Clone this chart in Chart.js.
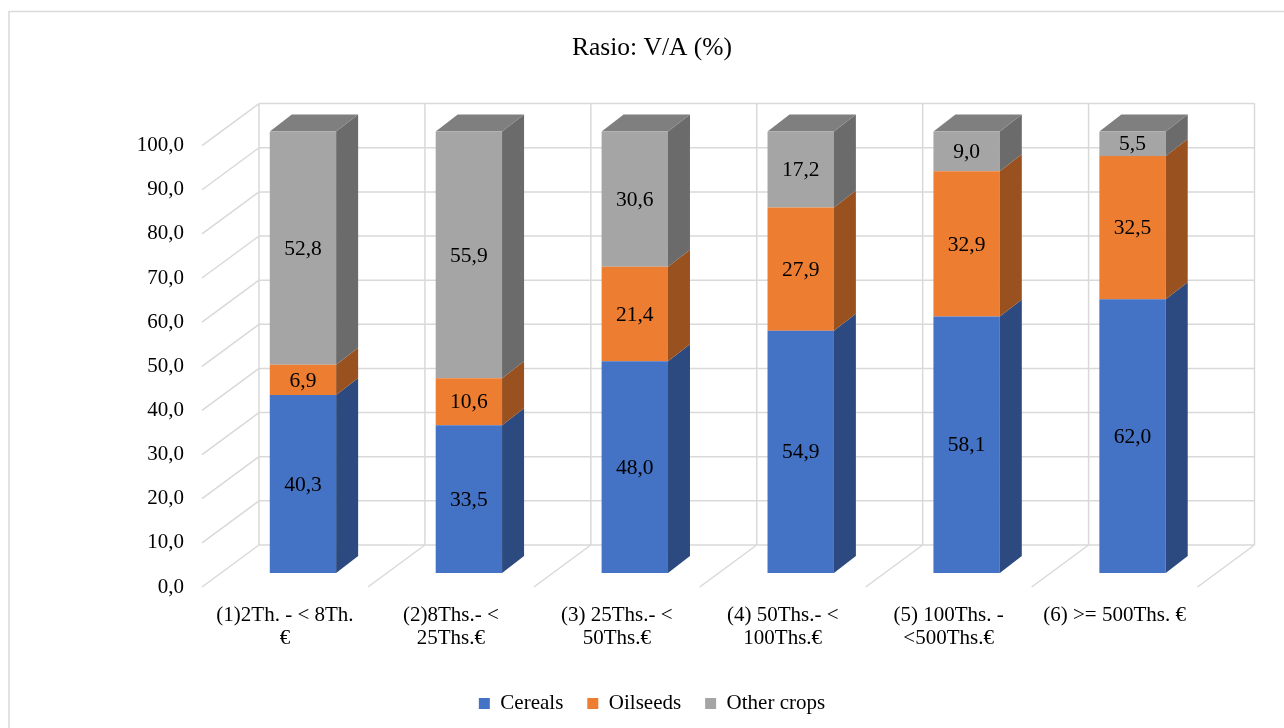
<!DOCTYPE html>
<html><head><meta charset="utf-8">
<script src="https://cdn.jsdelivr.net/npm/chart.js@4.4.1/dist/chart.umd.min.js"></script>
<style>html,body{margin:0;padding:0;background:#fff;}canvas{display:block}</style>
</head><body>
<canvas id="c" width="1284" height="728"></canvas>
<script>
const categories = [["(1)2Th. - < 8Th.","€"],["(2)8Ths.- <","25Ths.€"],["(3) 25Ths.- <","50Ths.€"],["(4) 50Ths.- <","100Ths.€"],["(5) 100Ths. -","<500Ths.€"],["(6) >= 500Ths. €"]];
const cereals = [40.3, 33.5, 48.0, 54.9, 58.1, 62.0];
const oilseeds = [6.9, 10.6, 21.4, 27.9, 32.9, 32.5];
const otherCrops = [52.8, 55.9, 30.6, 17.2, 9.0, 5.5];
const seriesNames = ["Cereals", "Oilseeds", "Other crops"];
const yMin = 0, yMax = 100, yStep = 10;

const FONT = "'Liberation Serif', 'Times New Roman', serif";
const frontColors = ['#4472C4', '#ED7D31', '#A5A5A5'];
const sideColors = ['#2C4A7F', '#9A5120', '#6B6B6B'];
const topColors = ['#3A62A8', '#C96A2A', '#7F7F7F'];
const BAR_D = {dx: 22, dy: -17};
const BACK = {dx: 39, dy: -28};
const FRONT = {dx: -18, dy: 14};
const GRID = '#D9D9D9';

const fmt = v => v.toFixed(1).replace('.', ',');

const threeD = {
  id: 'threeD',
  beforeDraw(chart) {
    const ctx = chart.ctx;
    ctx.save();
    ctx.fillStyle = '#fff';
    ctx.fillRect(0, 0, chart.width, chart.height);
    ctx.strokeStyle = GRID;
    ctx.lineWidth = 1.5;
    ctx.strokeRect(9, 11.5, 1400, 1000);
    ctx.restore();
  },
  beforeDatasetsDraw(chart) {
    const {ctx, chartArea: a, scales: {x, y}} = chart;
    const n = chart.data.labels.length;
    const cw = (a.right - a.left) / n;
    ctx.save();
    ctx.strokeStyle = GRID;
    ctx.lineWidth = 1.5;
    ctx.beginPath();
    for (let v = yMin; v <= yMax + 1e-9; v += yStep) {
      const py = y.getPixelForValue(v);
      ctx.moveTo(a.left + BACK.dx, py + BACK.dy);
      ctx.lineTo(a.right + BACK.dx, py + BACK.dy);
      ctx.moveTo(a.left + BACK.dx, py + BACK.dy);
      ctx.lineTo(a.left + FRONT.dx, py + FRONT.dy);
    }
    const y0 = y.getPixelForValue(yMin), y1 = y.getPixelForValue(yMax);
    for (let i = 0; i <= n; i++) {
      const bx = (i < n ? x.getPixelForValue(i) - cw / 2 : x.getPixelForValue(n - 1) + cw / 2);
      ctx.moveTo(bx + BACK.dx, y0 + BACK.dy);
      ctx.lineTo(bx + BACK.dx, y1 + BACK.dy);
      ctx.moveTo(bx + BACK.dx, y0 + BACK.dy);
      ctx.lineTo(bx + FRONT.dx, y0 + FRONT.dy);
    }
    ctx.stroke();
    ctx.restore();
  },
  afterDatasetsDraw(chart) {
    const ctx = chart.ctx;
    const nd = chart.data.datasets.length;
    ctx.save();
    for (let d = 0; d < nd; d++) {
      const meta = chart.getDatasetMeta(d);
      meta.data.forEach((bar) => {
        const {x, y, base, width} = bar.getProps(['x', 'y', 'base', 'width'], true);
        const r = x + width / 2, l = x - width / 2;
        const top = Math.min(y, base), bot = Math.max(y, base);
        ctx.fillStyle = sideColors[d];
        ctx.beginPath();
        ctx.moveTo(r, top);
        ctx.lineTo(r + BAR_D.dx, top + BAR_D.dy);
        ctx.lineTo(r + BAR_D.dx, bot + BAR_D.dy);
        ctx.lineTo(r, bot);
        ctx.closePath();
        ctx.fill();
        if (d === nd - 1) {
          ctx.fillStyle = topColors[d];
          ctx.beginPath();
          ctx.moveTo(l, top);
          ctx.lineTo(r, top);
          ctx.lineTo(r + BAR_D.dx, top + BAR_D.dy);
          ctx.lineTo(l + BAR_D.dx, top + BAR_D.dy);
          ctx.closePath();
          ctx.fill();
        }
      });
    }
    ctx.fillStyle = '#000';
    ctx.font = '21.5px ' + FONT;
    ctx.textAlign = 'center';
    ctx.textBaseline = 'middle';
    for (let d = 0; d < nd; d++) {
      const meta = chart.getDatasetMeta(d);
      const vals = chart.data.datasets[d].data;
      meta.data.forEach((bar, i) => {
        const {x, y, base} = bar.getProps(['x', 'y', 'base'], true);
        ctx.fillText(fmt(vals[i]), x, (y + base) / 2 + 1);
      });
    }
    ctx.restore();
  }
};

const mk = (i, data) => ({
  label: seriesNames[i], data,
  backgroundColor: frontColors[i],
  borderWidth: 0,
  barPercentage: 0.4, categoryPercentage: 1.0
});

new Chart(document.getElementById('c'), {
  type: 'bar',
  data: {
    labels: categories,
    datasets: [mk(0, cereals), mk(1, oilseeds), mk(2, otherCrops)]
  },
  options: {
    responsive: false,
    animation: false,
    devicePixelRatio: 1,
    layout: {padding: {left: 20, right: 0, top: 0, bottom: 4}},
    plugins: {
      title: {
        display: true, text: 'Rasio: V/A (%)', color: '#000',
        font: {family: FONT, size: 25.5, weight: 'normal'},
        padding: {top: 33, bottom: 68}
      },
      legend: {
        position: 'bottom',
        labels: {
          color: '#000', boxWidth: 11, boxHeight: 11, padding: 24,
          font: {family: FONT, size: 21}
        }
      },
      tooltip: {enabled: false}
    },
    scales: {
      x: {
        stacked: true,
        grid: {display: false, drawTicks: false},
        border: {display: false},
        ticks: {
          color: '#000', font: {family: FONT, size: 21, lineHeight: 1.1},
          padding: 31, labelOffset: -18, maxRotation: 0, autoSkip: false
        },
        afterFit(s) { s.height = 96; }
      },
      y: {
        stacked: true, min: yMin, max: yMax,
        grid: {display: false, drawTicks: false},
        border: {display: false},
        ticks: {
          stepSize: yStep, color: '#000', font: {family: FONT, size: 21},
          padding: 36, labelOffset: 14, callback: v => fmt(v)
        },
        afterFit(s) { s.width = 200; }
      },
      yRight: {
        position: 'right', display: true,
        grid: {display: false, drawTicks: false},
        border: {display: false},
        ticks: {display: false},
        afterFit(s) { s.width = 68.5; }
      }
    }
  },
  plugins: [threeD]
});
</script>
</body></html>
